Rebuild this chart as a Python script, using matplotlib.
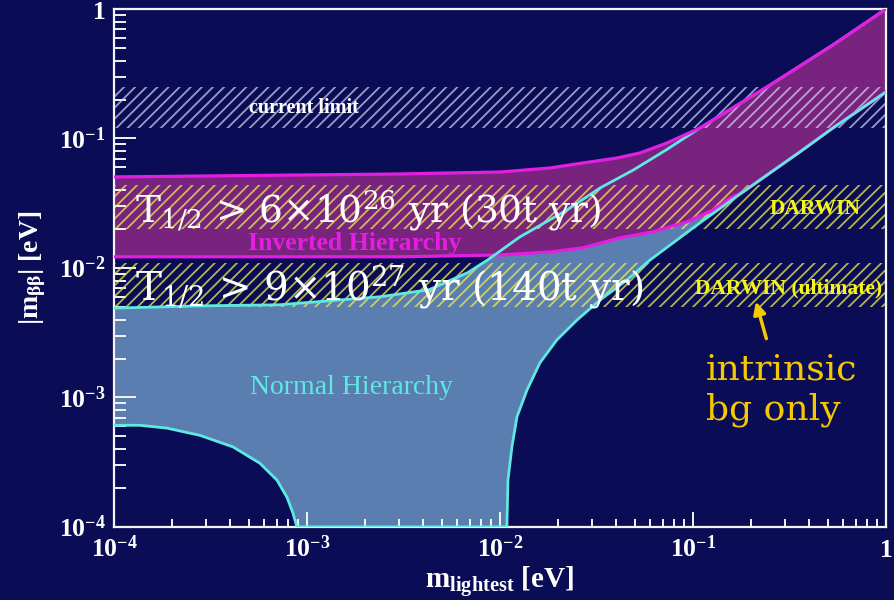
import numpy as np
import matplotlib
matplotlib.use("Agg")
import matplotlib.pyplot as plt

# ---- data (eV) ----
# normal hierarchy band
nh_up_x = [1e-4, 2.8e-4, 7.2e-4, 2.4e-3, 4.3e-3, 6.8e-3, 8.6e-3, 1.27e-2, 2.22e-2,
           3.3e-2, 4.9e-2, 7.3e-2, 0.109, 0.242, 0.53, 1.0]
nh_up_y = [4.9e-3, 5.1e-3, 5.2e-3, 6.0e-3, 6.8e-3, 9.2e-3, 1.15e-2, 1.74e-2, 2.8e-2,
           4.15e-2, 5.7e-2, 8.2e-2, 0.121, 0.25, 0.527, 1.0]
nh_lo_x = [1e-4, 1.36e-4, 1.88e-4, 2.79e-4, 4.14e-4, 5.71e-4, 6.99e-4, 7.87e-4, 8.46e-4,
           8.87e-4, 1.086e-2, 1.10e-2, 1.153e-2, 1.225e-2, 1.38e-2, 1.61e-2, 1.97e-2,
           2.51e-2, 3.3e-2, 4.55e-2, 5.98e-2, 0.1086, 0.1815, 0.2506, 0.358, 0.531, 1.0]
nh_lo_y = [6.1e-4, 6.1e-4, 5.8e-4, 5.1e-4, 4.15e-4, 3.1e-4, 2.3e-4, 1.7e-4, 1.28e-4,
           1e-4, 1e-4, 2.3e-4, 4.15e-4, 7.1e-4, 1.14e-3, 1.85e-3, 2.78e-3,
           3.97e-3, 5.66e-3, 8.07e-3, 1.15e-2, 2.23e-2, 3.86e-2, 5.42e-2, 7.87e-2, 0.1205, 0.229]

# inverted hierarchy band
ih_up_x = [1e-4, 3.0e-3, 1.0e-2, 1.82e-2, 2.69e-2, 4.04e-2, 5.31e-2, 7.33e-2, 0.1086,
           0.2416, 0.531, 1.0]
ih_up_y = [0.0505, 0.0532, 0.0551, 0.0592, 0.0647, 0.0707, 0.0773, 0.0923, 0.1205,
           0.25, 0.527, 1.0]
ih_lo_x = [1e-4, 3.0e-3, 1.0e-2, 1.82e-2, 2.69e-2, 4.19e-2, 6.21e-2, 9.31e-2, 0.127,
           0.156, 0.1815, 0.2506, 0.358, 0.531, 1.0]
ih_lo_y = [0.0122, 0.0122, 0.0126, 0.0133, 0.0143, 0.0171, 0.0190, 0.0227, 0.0280,
           0.0347, 0.0386, 0.0542, 0.0787, 0.1205, 0.229]

# sensitivity bands (|m_bb| ranges)
current_limit = [0.12, 0.25]
darwin = [0.020, 0.044]
darwin_ult = [0.0050, 0.0109]

xticks = [1e-4, 1e-3, 1e-2, 1e-1, 1]
xtick_labels = [r'$\mathbf{10^{-4}}$', r'$\mathbf{10^{-3}}$', r'$\mathbf{10^{-2}}$',
                r'$\mathbf{10^{-1}}$', r'$\mathbf{1}$']
yticks = [1e-4, 1e-3, 1e-2, 1e-1, 1]
ytick_labels = xtick_labels

# ---- style ----
bg = '#0a0c55'
white = '#f4f4f4'
plt.rcParams['mathtext.fontset'] = 'custom'
plt.rcParams['mathtext.rm'] = 'DejaVu Serif'
plt.rcParams['mathtext.it'] = 'DejaVu Serif:italic'
plt.rcParams['mathtext.bf'] = 'Liberation Serif:bold'
plt.rcParams['mathtext.default'] = 'rm'
plt.rcParams['hatch.linewidth'] = 1.3

fig = plt.figure(figsize=(8.94, 6), dpi=100, facecolor=bg)
ax = fig.add_axes([0.1275, 0.1217, 0.8635, 0.8633])
ax.set_facecolor(bg)
ax.set_xscale('log')
ax.set_yscale('log')
ax.set_xlim(1e-4, 1)
ax.set_ylim(1e-4, 1)

# bands
ax.fill(nh_up_x + nh_lo_x[::-1], nh_up_y + nh_lo_y[::-1], color='#5b7eb0', lw=0, zorder=1)
ax.fill(ih_up_x + ih_lo_x[::-1], ih_up_y + ih_lo_y[::-1], color='#78247f', lw=0, zorder=1.5)

# hatched sensitivity regions
ax.axhspan(*current_limit, facecolor='none', edgecolor=(0.85, 0.85, 0.95, 0.7),
           hatch='///', lw=0, zorder=2)
ax.axhspan(*darwin, facecolor='none', edgecolor=(0.93, 0.93, 0.30, 0.75),
           hatch='///', lw=0, zorder=2)
ax.axhspan(*darwin_ult, facecolor='none', edgecolor=(0.93, 0.93, 0.30, 0.75),
           hatch='///', lw=0, zorder=2)

# boundary lines
ax.plot(ih_lo_x, ih_lo_y, color='#e21fe0', lw=2.3, zorder=3.0)
ax.plot(nh_up_x, nh_up_y, color='#5fe9e2', lw=2.0, zorder=3.1)
ax.plot(ih_up_x, ih_up_y, color='#e21fe0', lw=2.3, zorder=3.2)
ax.plot(nh_lo_x, nh_lo_y, color='#5fe9e2', lw=2.0, zorder=3.3)

# labels in the plot
ax.text(5.0e-4, 0.172, 'current limit', color='white', fontsize=14.5, fontweight='bold',
        family='Liberation Serif', va='center', zorder=5)
ax.text(0.74, 0.0286, 'DARWIN', color='#f5f51a', fontsize=15.5, fontweight='bold',
        family='Liberation Serif', ha='right', va='center', zorder=5)
ax.text(0.95, 0.0070, 'DARWIN (ultimate)', color='#f5f51a', fontsize=15.5, fontweight='bold',
        family='Liberation Serif', ha='right', va='center', zorder=5)
ax.text(4.95e-4, 0.0154, 'Inverted Hierarchy', color='#e21fe0', fontsize=18.5, fontweight='bold',
        family='Liberation Serif', va='center', zorder=5)
ax.text(5.07e-4, 1.2e-3, 'Normal Hierarchy', color='#5fe9e2', fontsize=20,
        family='Liberation Serif', va='center', zorder=5)

ax.text(1.285e-4, 0.0226, r'T$_{1/2}$ > 6×10$^{26}$ yr (30t yr)', color='white',
        fontsize=27, family='DejaVu Serif', va='baseline', zorder=6)
ax.text(1.285e-4, 5.66e-3, r'T$_{1/2}$ > 9×10$^{27}$ yr (140t yr)', color='white',
        fontsize=28, family='DejaVu Serif', va='baseline', zorder=6)

ax.text(0.117, 1.15e-3, 'intrinsic\nbg only', color='#f5c800', fontsize=26,
        family='DejaVu Serif', va='center', ha='left', linespacing=1.2, zorder=6)
ax.annotate('', xy=(0.212, 5.5e-3), xytext=(0.240, 2.85e-3),
            arrowprops=dict(arrowstyle='-|>', color='#f5c800', lw=2.5, mutation_scale=18,
                            shrinkA=0, shrinkB=0),
            zorder=6)

# axes cosmetics
for s in ax.spines.values():
    s.set_color(white)
    s.set_linewidth(1.6)
ax.set_xticks(xticks, xtick_labels)
ax.set_yticks(yticks, ytick_labels)
ax.tick_params(which='both', direction='in', colors=white, width=1.4,
               top=False, right=False, labelsize=18.5)
ax.tick_params(axis='y', which='major', length=16, pad=6)
ax.tick_params(axis='y', which='minor', length=8.5)
ax.tick_params(axis='x', which='major', length=11, pad=7)
ax.tick_params(axis='x', which='minor', length=5.5)
for lab in ax.get_xticklabels() + ax.get_yticklabels():
    lab.set_color('white')

ax.set_xlabel(r'$\mathbf{m_{lightest}}$ [eV]', color='white', fontsize=21,
              family='Liberation Serif', fontweight='bold', labelpad=1)
ax.set_ylabel(r'$\mathbf{|m_{\beta\beta}|}$ [eV]', color='white', fontsize=20,
              family='Liberation Serif', fontweight='bold', labelpad=8)

fig.savefig('out.png', dpi=100, facecolor=bg)
